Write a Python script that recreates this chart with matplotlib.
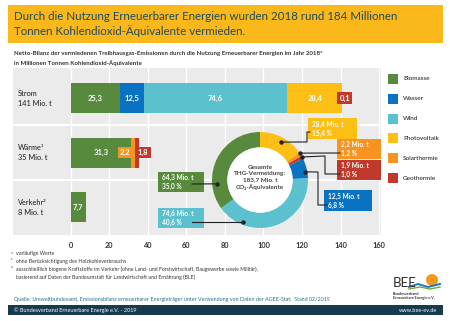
import numpy as np
import matplotlib.pyplot as plt
from matplotlib.patches import Rectangle, Circle

plt.rcParams['font.family'] = ['Lato', 'DejaVu Sans']

# sectors shown as rows of the stacked bar chart
sector_labels = ['Strom\n141 Mio. t', 'Wärme¹\n35 Mio. t', 'Verkehr²\n8 Mio. t']

sources = ['Biomasse', 'Wasser', 'Wind', 'Photovoltaik', 'Solarthermie', 'Geothermie']
colors = ['#578a3c', '#0a72c2', '#5bc1ce', '#fdbf14', '#f7931e', '#c1392b']

# avoided emissions per sector, Mio. t CO2-eq
biomasse = [25.3, 31.3, 7.7]
wasser = [12.5, 0, 0]
wind = [74.6, 0, 0]
photovoltaik = [28.4, 0, 0]
solarthermie = [0, 2.2, 0]
geothermie = [0.1, 1.8, 0]

# totals per source for the donut
donut_values = [64.3, 12.5, 74.6, 28.4, 2.2, 1.9]
donut_shares = [35.0, 6.8, 40.6, 15.4, 1.2, 1.0]
total = 183.7

xticks = [0, 20, 40, 60, 80, 100, 120, 140, 160]

W, H = 450, 321
fig = plt.figure(figsize=(W / 100, H / 100), dpi=100)
fig.patch.set_facecolor('white')

def fx(x):
    return x / W

def fy(y):
    return 1 - y / H

dark = '#333333'

# ---- bar chart
ax = fig.add_axes([fx(13), fy(235), 368 / W, 167 / H], zorder=1)
ax.set_facecolor('#ebebeb')
ax.set_xlim(-30, 161)
ax.set_ylim(2.51, -0.55)
for s in ax.spines.values():
    s.set_visible(False)
for t in xticks:
    ax.axvline(t, color='white', lw=1, zorder=1)
for sep in [0.5, 1.5]:
    ax.axhline(sep, color='white', lw=1.5, zorder=1)
ax.set_yticks([])
ax.set_xticks(xticks)
ax.set_xticklabels([str(t) for t in xticks], fontsize=5.3, fontweight='bold', color=dark)
ax.tick_params(axis='x', length=0, pad=5)

series = [biomasse, wasser, wind, photovoltaik, solarthermie, geothermie]
rows = np.arange(len(sector_labels))
left = np.zeros(len(rows))
# offsets (from segment start) for the boxed labels of small segments
small_offsets = {(5, 0): 1.3, (4, 1): -3.1, (5, 1): 4.1}
for i, (vals, c) in enumerate(zip(series, colors)):
    vals = np.array(vals, dtype=float)
    ax.barh(rows, vals, left=left, height=0.55, color=c, zorder=3)
    for r in rows:
        v = vals[r]
        if v <= 0:
            continue
        txt = f'{v:.1f}'.replace('.', ',')
        if v >= 5:
            ax.text(left[r] + v / 2, r, txt, ha='center', va='center', color='white',
                    fontsize=5.5, fontweight='bold', zorder=4)
        else:
            ax.text(left[r] + small_offsets[(i, r)], r, txt, ha='center', va='center',
                    color='white', fontsize=5.5, fontweight='bold', zorder=4,
                    bbox=dict(boxstyle='square,pad=0.3', fc=c, ec='none'))
    left += vals

for r, lab in zip(rows, sector_labels):
    ax.text(-27.5, r, lab, ha='left', va='center', fontsize=5.3, color='#2a2a2a',
            linespacing=1.5, fontweight='medium')

# ---- donut
cx, cy, R = 260, 180, 48
axd = fig.add_axes([fx(cx - R), fy(cy + R), 2 * R / W, 2 * R / H], zorder=2)
order = [3, 4, 5, 1, 2, 0]  # clockwise from the top
axd.pie([donut_values[k] for k in order], colors=[colors[k] for k in order],
        startangle=90, counterclock=False, radius=1,
        wedgeprops=dict(width=0.32, linewidth=0))
axd.add_patch(Circle((0, 0), 0.68, fc='white', ec='none'))
axd.set_xlim(-1, 1)
axd.set_ylim(-1, 1)
axd.axis('off')
axd.text(0, 0.05, 'Gesamte\nTHG-Vermeidung:\n' + f'{total:.1f}'.replace('.', ',') + ' Mio. t\nCO₂-Äquivalente',
         ha='center', va='center', fontsize=4.6, fontweight='bold', color='#444444', linespacing=1.3)

# ---- overlay in pixel coordinates
ov = fig.add_axes([0, 0, 1, 1], zorder=5)
ov.set_xlim(0, W)
ov.set_ylim(H, 0)
ov.axis('off')
ov.patch.set_alpha(0)

# header
ov.add_patch(Rectangle((8, 5), 435, 38, fc='#fbb81b', ec='none'))
ov.text(14, 24, 'Durch die Nutzung Erneuerbarer Energien wurden 2018 rund 184 Millionen\n'
        'Tonnen Kohlendioxid-Äquivalente vermieden.', ha='left', va='center',
        fontsize=8.3, color='#1d4a5a', linespacing=1.3)
ov.text(14, 54, 'Netto-Bilanz der vermiedenen Treibhausgas-Emissionen durch die Nutzung '
        'Erneuerbarer Energien im Jahr 2018*', ha='left', va='center', fontsize=4.45,
        fontweight='bold', color=dark)
ov.text(14, 63, 'in Millionen Tonnen Kohlendioxid-Äquivalente', ha='left', va='center',
        fontsize=4.45, fontweight='bold', color=dark)

# legend
for k, (name, c) in enumerate(zip(sources, colors)):
    ly = 79 + k * 19.8
    ov.add_patch(Rectangle((388, ly - 5), 10, 10, fc=c, ec='none'))
    ov.text(403, ly, name, ha='left', va='center', fontsize=4.6, color='#2a2a2a',
            fontweight='medium')

# donut labels: box (left, top, w, h), leader path ending at a point on the ring
donut_labels = [
    (0, (158, 172, 46, 20), [(192, 184)], (-0.90, -0.08)),
    (2, (158, 208, 46, 20), [(192, 222)], (-0.35, -0.875)),
    (3, (308, 118, 49, 21), [(310, 132), (307, 132), (307, 142)], (0.44, 0.79)),
    (4, (337, 139, 44, 20), [(340, 153)], (0.83, 0.56)),
    (5, (337, 160, 44, 20), [(340, 174), (325, 174), (325, 156)], (0.875, 0.48)),
    (1, (324, 190, 48, 21), [(327, 205), (318, 205), (318, 172)], (0.94, 0.17)),
]
for k, (bx, by, bw, bh), path, (ux, uy) in donut_labels:
    dot = (cx + ux * R, cy - uy * R)
    pts = path + [dot]
    ov.add_patch(Rectangle((bx, by), bw, bh, fc=colors[k], ec='none', zorder=2))
    xs, ys = zip(*pts)
    ov.plot(xs, ys, color='#222222', lw=0.8, zorder=3)
    ov.plot(*dot, 'o', color='#222222', ms=2.2, zorder=3)
    ov.text(bx + 4, by + bh / 2,
            f'{donut_values[k]:.1f}'.replace('.', ',') + ' Mio. t\n'
            + f'{donut_shares[k]:.1f}'.replace('.', ',') + ' %',
            ha='left', va='center', fontsize=4.7, fontweight='bold', color='white',
            linespacing=1.3, zorder=4)

# footnotes
notes = [('*', 'vorläufige Werte', 254),
         ('¹', 'ohne Berücksichtigung des Holzkohleverbrauchs', 262),
         ('²', 'ausschließlich biogene Kraftstoffe im Verkehr (ohne Land- und Forstwirtschaft, '
               'Baugewerbe sowie Militär),', 269),
         ('', 'basierend auf Daten der Bundesanstalt für Landwirtschaft und Ernährung (BLE)', 277)]
for mark, txt, ny in notes:
    ov.text(11, ny, mark, ha='left', va='center', fontsize=3.7, color=dark)
    ov.text(16, ny, txt, ha='left', va='center', fontsize=3.7, color=dark)

ov.text(14, 299, 'Quelle: Umweltbundesamt, Emissionsbilanz erneuerbarer Energieträger unter '
        'Verwendung von Daten der AGEE-Stat;  Stand 02/2019', ha='left', va='center',
        fontsize=3.9, color='#2b6f8c')

# logo
ov.text(393, 283, 'BEE', ha='left', va='center', fontsize=9.5, color='#2a2a2a')
ov.add_patch(Circle((432, 280), 6, fc='#f39a1e', ec='none'))
ov.plot([409, 418, 428, 440], [287, 284, 287, 284], color='#1f78c1', lw=1.4)
ov.plot([409, 420, 430, 440], [289, 287, 289, 287], color='#6aab3c', lw=1.0)
ov.text(393, 294, 'Bundesverband', ha='left', va='center', fontsize=2.7, fontweight='bold', color=dark)
ov.text(393, 298, 'Erneuerbare Energie e.V.', ha='left', va='center', fontsize=2.7,
        fontweight='bold', color=dark)

# footer bar
ov.add_patch(Rectangle((8, 305), 435, 10, fc='#173a4f', ec='none'))
ov.text(14, 310, '© Bundesverband Erneuerbare Energie e.V. - 2019', ha='left', va='center',
        fontsize=4, color='white')
ov.text(437, 310, 'www.bee-ev.de', ha='right', va='center', fontsize=4, color='white')

fig.savefig('out.png', dpi=100)
